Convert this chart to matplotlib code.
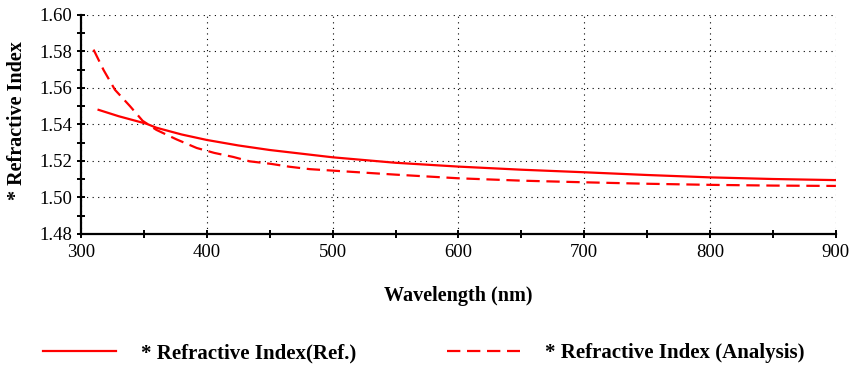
import matplotlib
matplotlib.use("Agg")
import matplotlib.pyplot as plt
from matplotlib.ticker import MultipleLocator

# data
wl_ref = [314, 330, 352, 360, 380, 400, 425, 450, 475, 500, 550, 600, 650, 700, 750, 800, 850, 900]
n_ref = [1.548, 1.5445, 1.5404, 1.5382, 1.5345, 1.5315, 1.5285, 1.526, 1.524, 1.522,
         1.519, 1.5169, 1.5152, 1.5138, 1.5123, 1.511, 1.5101, 1.5095]

wl_ana = [310, 318, 327, 339, 349, 360, 376, 392, 406, 421, 434, 451, 466, 482, 500,
          550, 600, 650, 700, 750, 800, 850, 900]
n_ana = [1.581, 1.5698, 1.559, 1.550, 1.542, 1.537, 1.5318, 1.5271, 1.5244, 1.5222, 1.5198,
         1.5184, 1.5168, 1.5155, 1.5147, 1.5125, 1.5105, 1.5092, 1.5083, 1.5075, 1.5069,
         1.5065, 1.5063]

plt.rcParams['font.family'] = ['Liberation Serif', 'DejaVu Serif']

fig = plt.figure(figsize=(8.54, 3.69), dpi=100)
ax = fig.add_axes([0.0948, 0.366, 0.884, 0.5935])

ax.plot(wl_ref, n_ref, color='red', lw=1.6, label='* Refractive Index(Ref.)')
ax.plot(wl_ana, n_ana, color='red', lw=1.6, ls=(0, (6, 3)), label='* Refractive Index (Analysis)')

ax.set_xlim(300, 900)
ax.set_ylim(1.48, 1.60)
ax.xaxis.set_major_locator(MultipleLocator(100))
ax.xaxis.set_minor_locator(MultipleLocator(50))
ax.yaxis.set_major_locator(MultipleLocator(0.02))
ax.yaxis.set_minor_locator(MultipleLocator(0.01))
ax.yaxis.set_major_formatter(plt.FormatStrFormatter('%.2f'))

ax.grid(True, which='major', color='black', ls=(0, (1, 4)), lw=0.8)
for s in ['top', 'right']:
    ax.spines[s].set_visible(False)
for s in ['left', 'bottom']:
    ax.spines[s].set_linewidth(1.6)
ax.tick_params(which='both', direction='inout', length=6, width=1.4, colors='black', labelsize=13.5)
ax.tick_params(axis='x', pad=4)

ax.set_xlabel('Wavelength (nm)', fontsize=14.5, fontweight='bold', labelpad=18)
ax.set_ylabel('* Refractive Index', fontsize=14.5, fontweight='bold')
ax.yaxis.set_label_coords(-0.072, 0.52)

fig.legend(loc='lower left', bbox_to_anchor=(0.028, -0.035), ncol=2, frameon=False,
           prop={'size': 15, 'weight': 'bold'}, handlelength=3.5, handletextpad=1.2,
           columnspacing=4.4)

fig.savefig('out.png', dpi=100)
